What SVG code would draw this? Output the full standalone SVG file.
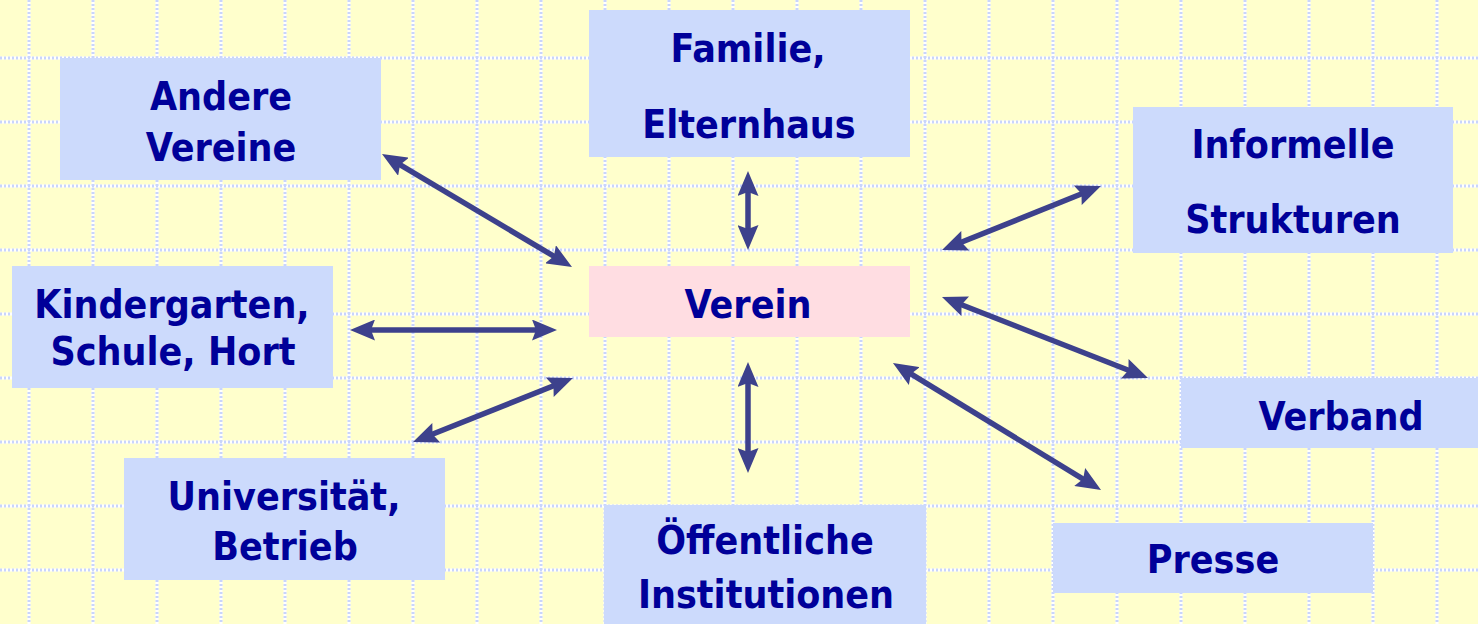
<svg xmlns="http://www.w3.org/2000/svg" width="1478" height="624" viewBox="0 0 1478 624">
<style>
.bg{fill:#ffffcc}
.gw{fill:none;stroke:#ffffff;stroke-width:3}
.gd{fill:none;stroke:#c9d5fb;stroke-width:3;stroke-dasharray:2 2}
.box{fill:#ccdafc}
.center{fill:#ffdde2}
text{font-family:"DejaVu Sans Condensed","DejaVu Sans",sans-serif;font-stretch:condensed;font-weight:bold;font-size:39px;fill:#000099;text-anchor:middle}
.conn line{stroke:#3d418c;stroke-width:5.5;marker-start:url(#ah);marker-end:url(#ah)}
</style>
<defs>
<marker id="ah" markerUnits="userSpaceOnUse" markerWidth="25" markerHeight="21" viewBox="0 0 25 21" refX="15" refY="10.5" orient="auto-start-reverse">
<path d="M0,0 L25,10.5 L0,21 L4,10.5 z" fill="#3d418c"/>
</marker>
</defs>
<rect class="bg" x="0" y="0" width="1478" height="624"/>
<g id="grid">
<path class="gw" d="M29 0V624M93 0V624M157 0V624M221 0V624M285 0V624M349 0V624M413 0V624M477 0V624M541 0V624M605 0V624M669 0V624M733 0V624M797 0V624M861 0V624M925 0V624M989 0V624M1053 0V624M1117 0V624M1181 0V624M1245 0V624M1309 0V624M1373 0V624M1437 0V624M0 58H1478M0 122H1478M0 186H1478M0 250H1478M0 314H1478M0 378H1478M0 442H1478M0 506H1478M0 570H1478"/>
<path class="gd" d="M29 0V624M93 0V624M157 0V624M221 0V624M285 0V624M349 0V624M413 0V624M477 0V624M541 0V624M605 0V624M669 0V624M733 0V624M797 0V624M861 0V624M925 0V624M989 0V624M1053 0V624M1117 0V624M1181 0V624M1245 0V624M1309 0V624M1373 0V624M1437 0V624M0 58H1478M0 122H1478M0 186H1478M0 250H1478M0 314H1478M0 378H1478M0 442H1478M0 506H1478M0 570H1478"/>
</g>
<g id="andere-vereine">
<rect class="box" x="60" y="58" width="321" height="122"/>
<text x="221" y="110">Andere</text>
<text x="221" y="161">Vereine</text>
</g>
<g id="familie">
<rect class="box" x="589" y="10" width="321" height="147"/>
<text x="748" y="62">Familie,</text>
<text x="749" y="138">Elternhaus</text>
</g>
<g id="informelle">
<rect class="box" x="1133" y="107" width="320" height="146"/>
<text x="1293" y="158">Informelle</text>
<text x="1293" y="233">Strukturen</text>
</g>
<g id="kindergarten">
<rect class="box" x="12" y="266" width="321" height="122"/>
<text x="172" y="318">Kindergarten,</text>
<text x="173" y="365">Schule, Hort</text>
</g>
<g id="verein">
<rect class="center" x="589" y="266" width="321" height="71"/>
<text x="748" y="318">Verein</text>
</g>
<g id="universitaet">
<rect class="box" x="124" y="458" width="321" height="122"/>
<text x="284" y="510">Universität,</text>
<text x="285" y="560">Betrieb</text>
</g>
<g id="oeffentliche">
<rect class="box" x="604" y="505" width="322" height="125"/>
<text x="765" y="554">Öffentliche</text>
<text x="766" y="608">Institutionen</text>
</g>
<g id="verband">
<rect class="box" x="1181" y="378" width="300" height="70"/>
<text x="1341" y="430">Verband</text>
</g>
<g id="presse">
<rect class="box" x="1053" y="523" width="320" height="70"/>
<text x="1213" y="573">Presse</text>
</g>
<g id="connectors" class="conn">
<line x1="390.6" y1="159.1" x2="563.4" y2="261.9"/>
<line x1="748" y1="181" x2="748" y2="240"/>
<line x1="951.3" y1="246.3" x2="1091.7" y2="189.7"/>
<line x1="360" y1="330" x2="547" y2="330"/>
<line x1="422.3" y1="438.3" x2="563.7" y2="381.7"/>
<line x1="748" y1="372" x2="748" y2="463"/>
<line x1="951.3" y1="300.7" x2="1138.7" y2="374.3"/>
<line x1="901.5" y1="368.2" x2="1092.5" y2="484.8"/>
</g>
</svg>
